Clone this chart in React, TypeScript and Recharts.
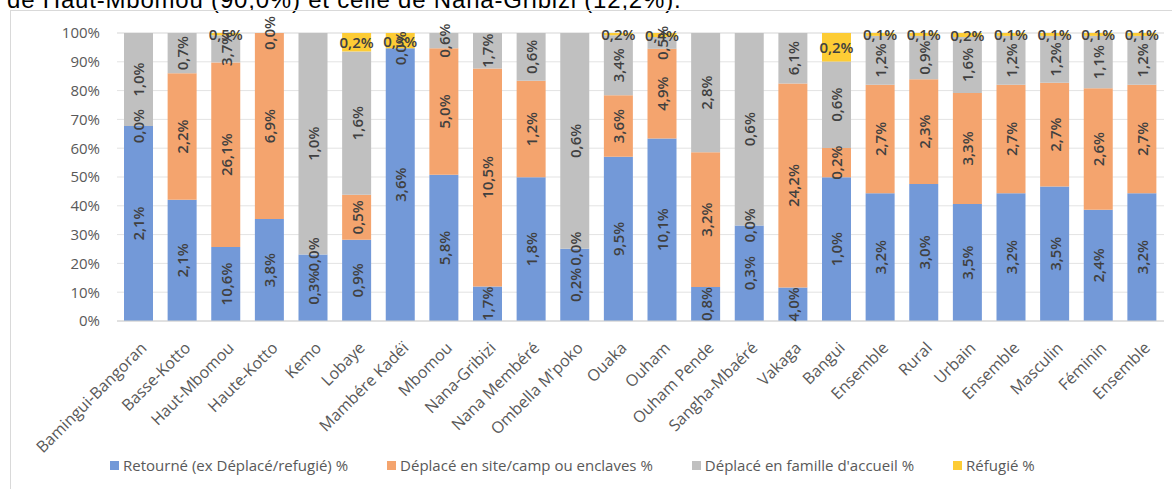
import React from "react";
import {
  BarChart, Bar, XAxis, YAxis, CartesianGrid, Legend, LabelList,
} from "recharts";

// Répartition des personnes déplacées par statut (parts en %)
const categories = [
  "Bamingui-Bangoran", "Basse-Kotto", "Haut-Mbomou", "Haute-Kotto", "Kemo", "Lobaye",
  "Mambére Kadéï", "Mbomou", "Nana-Gribizi", "Nana Membéré", "Ombella M'poko", "Ouaka",
  "Ouham", "Ouham Pende", "Sangha-Mbaéré", "Vakaga", "Bangui", "Ensemble",
  "Rural", "Urbain", "Ensemble", "Masculin", "Féminin", "Ensemble",
];

const retourne = [67.7, 42.1, 25.7, 35.4, 23.1, 28.2, 94.7, 50.8, 12.0, 49.9, 25.1, 57.0, 63.4, 11.8, 33.2, 11.6, 49.9, 44.4, 47.6, 40.6, 44.4, 46.7, 38.6, 44.4];
const site = [0, 43.9, 64.1, 64.6, 0, 15.6, 0, 43.9, 75.7, 33.5, 0, 21.4, 31.1, 46.8, 0, 70.9, 10.2, 37.6, 36.3, 38.6, 37.6, 36.0, 42.2, 37.6];
const famille = [32.3, 14.0, 9.4, 0, 76.9, 49.8, 0, 5.3, 12.3, 16.6, 74.9, 20.8, 4.1, 41.4, 66.8, 17.5, 30.0, 17.0, 15.1, 19.4, 17.0, 16.3, 18.2, 17.0];
const refugie = [0, 0, 0.8, 0, 0, 6.4, 5.3, 0, 0, 0, 0, 0.8, 1.4, 0, 0, 0, 9.9, 1.0, 1.0, 1.4, 1.0, 1.0, 1.0, 1.0];

// étiquettes affichées dans les segments
const lblRetourne = ["2,1%", "2,1%", "10,6%", "3,8%", "0,3%", "0,9%", "3,6%", "5,8%", "1,7%", "1,8%", "0,2%", "9,5%", "10,1%", "0,8%", "0,3%", "4,0%", "1,0%", "3,2%", "3,0%", "3,5%", "3,2%", "3,5%", "2,4%", "3,2%"];
const lblSite = ["0,0%", "2,2%", "26,1%", "6,9%", "0,0%", "0,5%", "0,0%", "5,0%", "10,5%", "1,2%", "0,0%", "3,6%", "4,9%", "3,2%", "0,0%", "24,2%", "0,2%", "2,7%", "2,3%", "3,3%", "2,7%", "2,7%", "2,6%", "2,7%"];
const lblFamille = ["1,0%", "0,7%", "3,7%", "0,0%", "1,0%", "1,6%", "0,0%", "0,6%", "1,7%", "0,6%", "0,6%", "3,4%", "0,5%", "2,8%", "0,6%", "6,1%", "0,6%", "1,2%", "0,9%", "1,6%", "1,2%", "1,2%", "1,1%", "1,2%"];
const lblRefugie = [null, null, "0,5%", null, null, "0,2%", "0,3%", null, null, null, null, "0,2%", "0,4%", null, null, null, "0,2%", "0,1%", "0,1%", "0,2%", "0,1%", "0,1%", "0,1%", "0,1%"];

const yTicks = [0, 10, 20, 30, 40, 50, 60, 70, 80, 90, 100];

const series = [
  { key: "retourne", name: "Retourné (ex Déplacé/refugié) %", color: "#7399d8" },
  { key: "site", name: "Déplacé en site/camp ou enclaves %", color: "#f4a46e" },
  { key: "famille", name: "Déplacé en famille d'accueil %", color: "#c0c0c0" },
  { key: "refugie", name: "Réfugié %", color: "#fdcc35" },
];

const data = categories.map((name, i) => ({
  name,
  retourne: retourne[i],
  site: site[i],
  famille: famille[i],
  refugie: refugie[i],
  lRet: lblRetourne[i],
  lSite: site[i] > 0 ? lblSite[i] : null,
  lFam: famille[i] > 0 ? lblFamille[i] : null,
  lRef: lblRefugie[i],
  // segments nuls : l'étiquette se pose sur le haut du segment inférieur
  zOnRet: site[i] === 0 ? lblSite[i] : null,
  zOnSite: famille[i] === 0 && site[i] > 0 ? lblFamille[i] : null,
}));

const FONT = "'Open Sans', 'Liberation Sans', sans-serif";
const LABEL_COLOR = "#404040";
const AXIS_COLOR = "#595959";

const box = (props: any) => {
  const vb = props.viewBox && props.viewBox.width != null ? props.viewBox : props;
  const x = Number(vb.x), y = Number(vb.y), w = Number(vb.width), h = Number(vb.height);
  return { cx: x + w / 2, cy: y + h / 2, top: Math.min(y, y + h) };
};

const vText = (cx: number, cy: number, value: any) => (
  <text
    x={cx}
    y={cy}
    transform={`rotate(-90 ${cx} ${cy})`}
    textAnchor="middle"
    dominantBaseline="central"
    fontFamily={FONT}
    fontSize={15}
    fontWeight={600}
    fill={LABEL_COLOR}
  >
    {value}
  </text>
);

const rotatedLabel = (props: any) => {
  if (props.value == null || props.value === "") return null;
  const { cx, cy } = box(props);
  return vText(cx, cy, props.value);
};

const topEdgeLabel = (props: any) => {
  if (props.value == null || props.value === "") return null;
  const { cx, top } = box(props);
  return vText(cx, top, props.value);
};

const flatLabel = (props: any) => {
  if (props.value == null || props.value === "") return null;
  const { cx, cy } = box(props);
  return (
    <text
      x={cx}
      y={cy}
      textAnchor="middle"
      dominantBaseline="central"
      fontFamily={FONT}
      fontSize={15}
      fontWeight={600}
      fill={LABEL_COLOR}
    >
      {props.value}
    </text>
  );
};

const CategoryTick = (props: any) => {
  const { x, y, payload } = props;
  const px = x + 9;
  const py = y + 20;
  return (
    <text
      x={px}
      y={py}
      transform={`rotate(-45 ${px} ${py})`}
      textAnchor="end"
      fontFamily={FONT}
      fontSize={16}
      fill={AXIS_COLOR}
    >
      {payload.value}
    </text>
  );
};

const LegendRow = () => (
  <div
    style={{
      display: "flex",
      alignItems: "center",
      gap: 39,
      paddingLeft: 110,
      height: 48,
      fontFamily: FONT,
      fontSize: 15,
      color: AXIS_COLOR,
      whiteSpace: "nowrap",
    }}
  >
    {series.map((s) => (
      <div key={s.key} style={{ display: "flex", alignItems: "center", gap: 4 }}>
        <span style={{ width: 9, height: 9, background: s.color, display: "inline-block" }} />
        <span>{s.name}</span>
      </div>
    ))}
  </div>
);

export default function App() {
  return (
    <div
      style={{
        position: "absolute",
        left: 0,
        top: 0,
        width: 1172,
        height: 489,
        overflow: "hidden",
        background: "#fff",
      }}
    >
      {/* fin de la phrase qui précède le graphique (ligne de hauteur nulle) */}
      <div
        style={{
          position: "absolute",
          left: 7,
          top: 0,
          height: 0,
          whiteSpace: "nowrap",
          fontFamily: "'Liberation Sans', Arial, sans-serif",
          fontSize: 24,
          lineHeight: 0,
          letterSpacing: 0.8,
          color: "#000",
        }}
      >
        de Haut-Mbomou (90,0%) et celle de Nana-Gribizi (12,2%).
      </div>
      <div
        style={{
          position: "absolute",
          left: 10,
          top: 10,
          width: 1170,
          height: 490,
          border: "1px solid #d9d9d9",
          boxSizing: "border-box",
        }}
      />
      <div style={{ position: "absolute", left: 0, top: 0 }}>
        <BarChart
          width={1172}
          height={489}
          data={data}
          margin={{ top: 33, right: 8, bottom: 0, left: 0 }}
          barSize={29}
        >
          <CartesianGrid vertical={false} stroke="#e3e3e3" />
          <XAxis
            dataKey="name"
            interval={0}
            height={120}
            tick={<CategoryTick />}
            tickLine={false}
            axisLine={{ stroke: "#d0d0d0" }}
          />
          <YAxis
            width={117}
            domain={[0, 100]}
            ticks={yTicks}
            tickFormatter={(v) => `${v}%`}
            tick={{ fill: AXIS_COLOR, fontSize: 15, fontFamily: FONT }}
            tickLine={false}
            axisLine={false}
            tickSize={0}
            tickMargin={17}
          />
          <Legend
            verticalAlign="bottom"
            height={48}
            wrapperStyle={{ left: 0, width: 1172 }}
            content={<LegendRow />}
          />
          <Bar dataKey="retourne" name={series[0].name} stackId="s" fill={series[0].color} isAnimationActive={false}>
            <LabelList dataKey="lRet" content={rotatedLabel} />
            <LabelList dataKey="zOnRet" content={topEdgeLabel} />
          </Bar>
          <Bar dataKey="site" name={series[1].name} stackId="s" fill={series[1].color} isAnimationActive={false}>
            <LabelList dataKey="lSite" content={rotatedLabel} />
            <LabelList dataKey="zOnSite" content={topEdgeLabel} />
          </Bar>
          <Bar dataKey="famille" name={series[2].name} stackId="s" fill={series[2].color} isAnimationActive={false}>
            <LabelList dataKey="lFam" content={rotatedLabel} />
          </Bar>
          <Bar dataKey="refugie" name={series[3].name} stackId="s" fill={series[3].color} isAnimationActive={false}>
            <LabelList dataKey="lRef" content={flatLabel} />
          </Bar>
        </BarChart>
      </div>
    </div>
  );
}
